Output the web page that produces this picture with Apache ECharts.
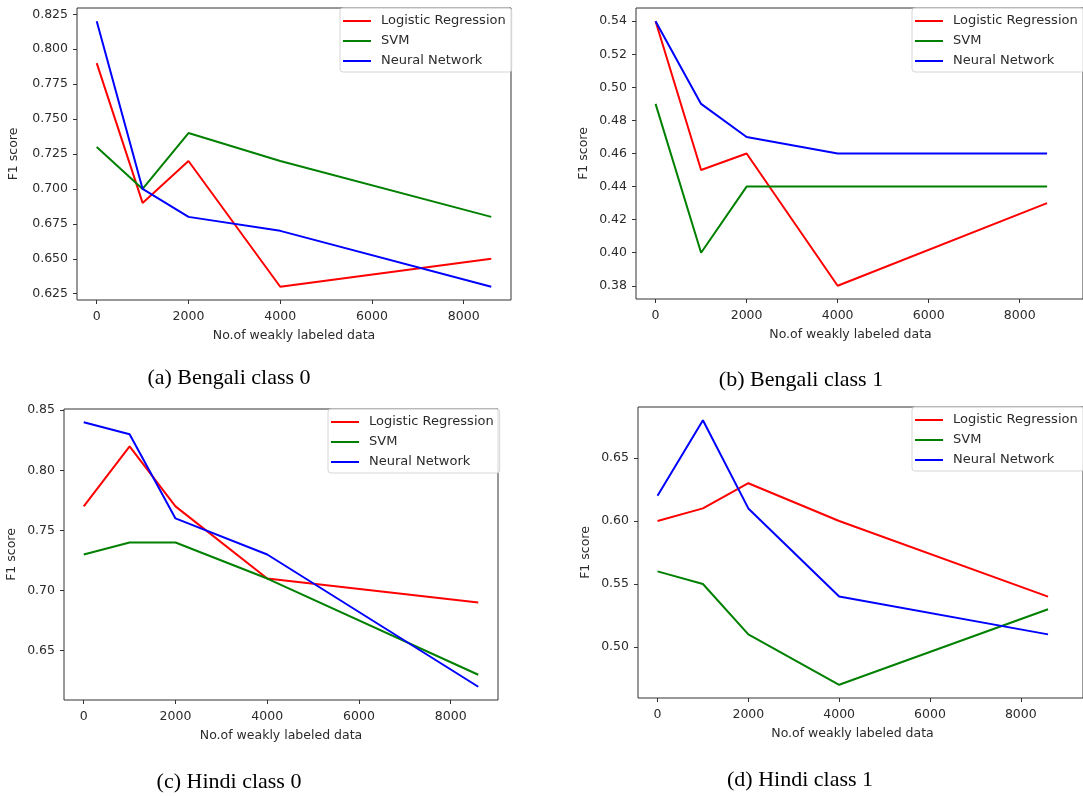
<!DOCTYPE html>
<html lang="en">
<head>
    <meta charset="UTF-8">
    <title>F1 score vs weakly labeled data</title>
    <script src="https://cdn.jsdelivr.net/npm/echarts@6/dist/echarts.min.js"></script>
    <style>
        html, body { margin: 0; padding: 0; background: #fff; }
    </style>
</head>
<body>
<div id="main" style="width: 1083px;height:796px;"></div>
<script type="text/javascript">
    // x values (number of weakly labeled data)
    var xVals = [0, 1000, 2000, 4000, 8600];
    var xTicks = [0, 2000, 4000, 6000, 8000];
    var seriesNames = ['Logistic Regression', 'SVM', 'Neural Network'];
    var lineColors = ['#ff0000', '#008000', '#0000ff'];

    // (a) Bengali class 0
    var bengali0Lr = [0.79, 0.69, 0.72, 0.63, 0.65];
    var bengali0Svm = [0.73, 0.70, 0.74, 0.72, 0.68];
    var bengali0Nn = [0.82, 0.70, 0.68, 0.67, 0.63];
    var bengali0Ticks = [0.625, 0.650, 0.675, 0.700, 0.725, 0.750, 0.775, 0.800, 0.825];

    // (b) Bengali class 1
    var bengali1Lr = [0.54, 0.45, 0.46, 0.38, 0.43];
    var bengali1Svm = [0.49, 0.40, 0.44, 0.44, 0.44];
    var bengali1Nn = [0.54, 0.49, 0.47, 0.46, 0.46];
    var bengali1Ticks = [0.38, 0.40, 0.42, 0.44, 0.46, 0.48, 0.50, 0.52, 0.54];

    // (c) Hindi class 0
    var hindi0Lr = [0.77, 0.82, 0.77, 0.71, 0.69];
    var hindi0Svm = [0.73, 0.74, 0.74, 0.71, 0.63];
    var hindi0Nn = [0.84, 0.83, 0.76, 0.73, 0.62];
    var hindi0Ticks = [0.65, 0.70, 0.75, 0.80, 0.85];

    // (d) Hindi class 1
    var hindi1Lr = [0.60, 0.61, 0.63, 0.60, 0.54];
    var hindi1Svm = [0.56, 0.55, 0.51, 0.47, 0.53];
    var hindi1Nn = [0.62, 0.68, 0.61, 0.54, 0.51];
    var hindi1Ticks = [0.50, 0.55, 0.60, 0.65];

    var captions = ['(a) Bengali class 0', '(b) Bengali class 1', '(c) Hindi class 0', '(d) Hindi class 1'];

    // layout of the four panels
    var panels = [
        {grid: {left: 77, top: 8, width: 434, height: 292}, xMin: -430, xMax: 9030, yMin: 0.6205, yMax: 0.8295,
            ticks: bengali0Ticks, dec: 3, data: [bengali0Lr, bengali0Svm, bengali0Nn], nameGap: 57, xNamePad: 0,
            legend: {left: 340, top: 8}, cap: [229, 378]},
        {grid: {left: 636, top: 8, width: 449, height: 291}, xMin: -430, xMax: 9390, yMin: 0.372, yMax: 0.548,
            ticks: bengali1Ticks, dec: 2, data: [bengali1Lr, bengali1Svm, bengali1Nn], nameGap: 46, xNamePad: 18,
            legend: {left: 912, top: 8}, cap: [801, 380]},
        {grid: {left: 64, top: 409, width: 434, height: 291}, xMin: -430, xMax: 9030, yMin: 0.609, yMax: 0.851,
            ticks: hindi0Ticks, dec: 2, data: [hindi0Lr, hindi0Svm, hindi0Nn], nameGap: 46, xNamePad: 0,
            legend: {left: 328, top: 409}, cap: [229, 782]},
        {grid: {left: 638, top: 407, width: 447, height: 291}, xMin: -430, xMax: 9370, yMin: 0.4595, yMax: 0.6905,
            ticks: hindi1Ticks, dec: 2, data: [hindi1Lr, hindi1Svm, hindi1Nn], nameGap: 46, xNamePad: 16,
            legend: {left: 912, top: 407}, cap: [800, 780]}
    ];

    var labelFont = {fontFamily: 'DejaVu Sans', fontSize: 12.5, color: '#2b2b2b'};
    var grids = [], xAxes = [], yAxes = [], series = [], legends = [], graphics = [];

    panels.forEach(function (p, i) {
        grids.push({
            left: p.grid.left, top: p.grid.top, width: p.grid.width, height: p.grid.height,
            show: true, borderColor: '#333', borderWidth: 1, backgroundColor: 'transparent'
        });
        xAxes.push({
            type: 'value', gridIndex: i, min: p.xMin, max: p.xMax,
            name: 'No.of weakly labeled data', nameLocation: 'middle', nameGap: 29,
            nameTextStyle: Object.assign({padding: [0, p.xNamePad, 0, 0]}, labelFont),
            axisLine: {show: false, onZero: false},
            axisTick: {show: true, length: 4, customValues: xTicks, lineStyle: {color: '#333'}},
            axisLabel: Object.assign({
                margin: 10, customValues: xTicks,
                formatter: function (v) { return String(v); }
            }, labelFont),
            splitLine: {show: false}
        });
        (function (dec) {
            yAxes.push({
                type: 'value', gridIndex: i, min: p.yMin, max: p.yMax,
                name: 'F1 score', nameLocation: 'middle', nameGap: p.nameGap, nameRotate: 90,
                nameTextStyle: labelFont,
                axisLine: {show: false, onZero: false},
                axisTick: {show: true, length: 4, customValues: p.ticks, lineStyle: {color: '#333'}},
                axisLabel: Object.assign({
                    margin: 9, customValues: p.ticks,
                    formatter: function (v) { return v.toFixed(dec); }
                }, labelFont),
                splitLine: {show: false}
            });
        })(p.dec);
        for (var s = 0; s < 3; s++) {
            series.push({
                name: seriesNames[s], type: 'line', xAxisIndex: i, yAxisIndex: i,
                showSymbol: false, symbol: 'none',
                lineStyle: {color: lineColors[s], width: 2},
                itemStyle: {color: lineColors[s]},
                data: xVals.map(function (x, k) { return [x, p.data[s][k]]; })
            });
        }
        legends.push({
            data: seriesNames, orient: 'vertical', left: p.legend.left, top: p.legend.top,
            icon: 'rect', itemWidth: 28, itemHeight: 2, itemGap: 4,
            padding: [5, 6, 3, 3],
            backgroundColor: 'rgba(255,255,255,0.8)', borderColor: '#d6d6d6', borderWidth: 1, borderRadius: 3,
            textStyle: {fontFamily: 'DejaVu Sans', fontSize: 13, color: '#2b2b2b', lineHeight: 16, padding: [0, 0, 0, 5]}
        });
        graphics.push({
            type: 'text', x: p.cap[0], y: p.cap[1],
            style: {
                text: captions[i], fill: '#000', font: '22px "Liberation Serif"',
                textAlign: 'center', textVerticalAlign: 'middle'
            }
        });
    });

    var myChart = echarts.init(document.getElementById('main'));
    var option = {
        backgroundColor: '#fff',
        animation: false,
        grid: grids,
        xAxis: xAxes,
        yAxis: yAxes,
        legend: legends,
        series: series,
        graphic: graphics
    };
    myChart.setOption(option);
</script>
</body>
</html>
